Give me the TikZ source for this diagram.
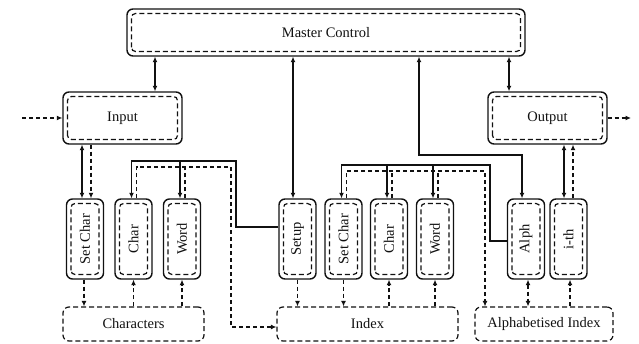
\documentclass[tikz,border=0pt]{standalone}
\usepackage{fontspec}
\setmainfont{Liberation Serif}
\usepackage{graphicx}
\usetikzlibrary{arrows.meta, calc}
\definecolor{cInk}{HTML}{111111}
\tikzset{
  unitbox/.style={
    draw=cInk, line width=1.4pt, rounded corners=6pt,
    inner sep=0pt, font=\fontsize{14.5pt}{16pt}\selectfont, text=cInk,
    path picture={
      \draw[cInk, line width=1.2pt, dash pattern=on 5pt off 3pt, rounded corners=4pt]
        ($(path picture bounding box.south west)+(4.5pt,4.5pt)$) rectangle
        ($(path picture bounding box.north east)-(4.5pt,4.5pt)$);
    },
  },
  vbox/.style={unitbox, minimum width=37pt, minimum height=80pt},
  storebox/.style={
    draw=cInk, line width=1.2pt, dash pattern=on 5pt off 3pt, rounded corners=6pt,
    minimum height=34pt, inner sep=0pt,
    font=\fontsize{14.5pt}{16pt}\selectfont, text=cInk,
  },
  sarr/.style={-{Latex[length=5.5pt,width=5pt]}, line width=1.1pt, color=cInk},
  darr/.style={sarr, dash pattern=on 4pt off 3pt},
  dline/.style={line width=1.1pt, color=cInk, dash pattern=on 4pt off 3pt},
}

\begin{document}
\begin{tikzpicture}[x=1pt, y=1pt,
  biarr/.style={{Latex[length=5.5pt,width=5pt]}-{Latex[length=5.5pt,width=5pt]}}
]
  \useasboundingbox (0,0) rectangle (639,-344);
  \fill[white] (0,0) rectangle (639,-344);

  % Control layer
  \node[unitbox, minimum width=398pt, minimum height=47pt] (master) at (326,-32.5) {Master Control};
  \node[unitbox, minimum width=119pt, minimum height=52pt] (input) at (122.5,-118) {Input};
  \node[unitbox, minimum width=119pt, minimum height=52pt] (output) at (547.5,-118) {Output};

  % Processing units
  \node[vbox] (cset) at (85,-239) {\rotatebox{90}{Set Char}};
  \node[vbox] (cchar) at (133.5,-239) {\rotatebox{90}{Char}};
  \node[vbox] (cword) at (182,-239) {\rotatebox{90}{Word}};
  \node[vbox] (setup) at (297.5,-239) {\rotatebox{90}{Setup}};
  \node[vbox] (iset) at (343.5,-239) {\rotatebox{90}{Set Char}};
  \node[vbox] (ichar) at (389,-239) {\rotatebox{90}{Char}};
  \node[vbox] (iword) at (435,-239) {\rotatebox{90}{Word}};
  \node[vbox] (alph) at (526,-239) {\rotatebox{90}{Alph}};
  \node[vbox] (ith) at (568.5,-239) {\rotatebox{90}{i-th}};

  % Stores
  \node[storebox, minimum width=141pt] (chars) at (133.5,-324) {Characters};
  \node[storebox, minimum width=181pt] (index) at (367.5,-324) {Index};
  \node[storebox, minimum width=138pt] (aindex) at (544,-324) {Alphabetised Index};

  % Bus corners
  \coordinate (inext) at (22,-118);
  \coordinate (outext) at (631,-118);
  \coordinate (mbus) at (419,-155);
  \coordinate (sbus) at (236,-161);
  \coordinate (dbus) at (231,-167);
  \coordinate (abus) at (490,-165);
  \coordinate (ibus) at (485,-171);

  % Master links
  \draw[sarr, biarr] ([xshift=32.5pt]input.north) -- ([xshift=32.5pt]input.north |- master.south);
  \draw[sarr, biarr] ([xshift=-38.5pt]output.north) -- ([xshift=-38.5pt]output.north |- master.south);
  \draw[sarr, biarr] ([xshift=-4.5pt]setup.north) -- ([xshift=-4.5pt]setup.north |- master.south);
  \draw[sarr, biarr] ([xshift=-4pt]alph.north) |- (mbus) -- (mbus |- master.south);

  % Outside world
  \draw[darr] (inext) -- (input.west);
  \draw[darr] (output.east) -- (outext);

  % Input / output to units
  \draw[sarr, biarr] ([xshift=-3pt]cset.north) -- ([xshift=-3pt]cset.north |- input.south);
  \draw[darr] ([xshift=6pt]cset.north |- input.south) -- ([xshift=6pt]cset.north);
  \draw[sarr, biarr] ([xshift=-4.5pt]ith.north) -- ([xshift=-4.5pt]ith.north |- output.south);
  \draw[darr] ([xshift=4.5pt]ith.north) -- ([xshift=4.5pt]ith.north |- output.south);

  % Setup drives the character units
  \draw[sarr] ([yshift=12pt]setup.west) -| (sbus) -| ([xshift=-2pt]cchar.north);
  \draw[sarr] ([xshift=-2pt]cword.north |- sbus) -- ([xshift=-2pt]cword.north);
  \draw[darr] ([xshift=3pt]cchar.north) |- (dbus) |- ([yshift=-3pt]index.west);
  \draw[dline] ([xshift=3pt]cword.north) -- ([xshift=3pt]cword.north |- dbus);

  % Alph drives the index units
  \draw[sarr] ([yshift=-2pt]alph.west) -| (abus) -| ([xshift=-2pt]iset.north);
  \draw[sarr] ([xshift=-2pt]ichar.north |- abus) -- ([xshift=-2pt]ichar.north);
  \draw[sarr] ([xshift=-2pt]iword.north |- abus) -- ([xshift=-2pt]iword.north);
  \draw[darr] ([xshift=3pt]iset.north) |- (ibus) -- (ibus |- aindex.north);
  \draw[dline] ([xshift=3pt]ichar.north) -- ([xshift=3pt]ichar.north |- ibus);
  \draw[dline] ([xshift=3pt]iword.north) -- ([xshift=3pt]iword.north |- ibus);

  % Units to stores
  \draw[darr] ([xshift=-1pt]cset.south) -- ([xshift=-1pt]cset.south |- chars.north);
  \draw[darr] (cchar.south |- chars.north) -- (cchar.south);
  \draw[darr] (cword.south |- chars.north) -- (cword.south);
  \draw[darr] (setup.south) -- (setup.south |- index.north);
  \draw[darr] (iset.south) -- (iset.south |- index.north);
  \draw[darr] (ichar.south |- index.north) -- (ichar.south);
  \draw[darr] (iword.south |- index.north) -- (iword.south);
  \draw[darr, biarr] ([xshift=2pt]alph.south) -- ([xshift=2pt]alph.south |- aindex.north);
  \draw[darr] ([xshift=1.5pt]ith.south |- aindex.north) -- ([xshift=1.5pt]ith.south);

\end{tikzpicture}
\end{document}
